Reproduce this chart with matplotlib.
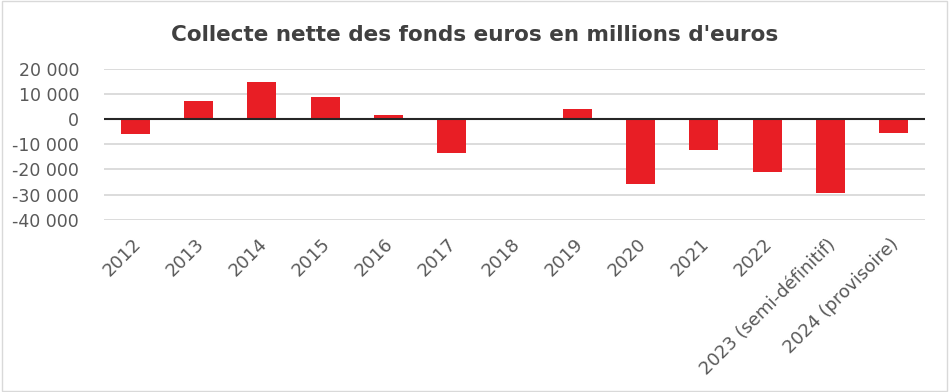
import numpy as np
import matplotlib
matplotlib.use("Agg")
import matplotlib.pyplot as plt
from matplotlib.patches import Rectangle
from matplotlib.ticker import FuncFormatter
from matplotlib.transforms import ScaledTranslation

# Collecte nette des fonds euros (millions d'euros)
years = ["2012", "2013", "2014", "2015", "2016", "2017", "2018", "2019",
         "2020", "2021", "2022", "2023 (semi-définitif)", "2024 (provisoire)"]
collecte = [-5700, 7300, 15000, 8900, 1700, -13300, 0, 4100,
            -25600, -12100, -21200, -29200, -5300]
yticks = [-40000, -30000, -20000, -10000, 0, 10000, 20000]

plt.rcParams["font.family"] = ["DejaVu Sans"]

fig = plt.figure(figsize=(9.49, 3.92), dpi=100)
ax = fig.add_axes([0.1096, 0.4395, 0.8651, 0.3845])

x = np.arange(len(years))
ax.bar(x, collecte, width=0.46, color="#E81E25", zorder=3)

ax.set_xlim(-0.5, len(years) - 0.5)
ax.set_ylim(-40000, 20000)
ax.set_yticks(yticks)
ax.yaxis.set_major_formatter(FuncFormatter(lambda v, p: f"{int(v):,}".replace(",", " ")))
ax.grid(axis="y", color="#D9D9D9", linewidth=1.3, zorder=0)
ax.axhline(0, color="#262626", linewidth=1.5, zorder=4)

ax.set_xticks(x)
ax.set_xticklabels(years, rotation=45, ha="right", rotation_mode="anchor")
ax.tick_params(axis="both", length=0, labelsize=12.5, colors="#595959")
ax.tick_params(axis="x", labelsize=13, pad=9)
ax.tick_params(axis="y", pad=18)
shift = ScaledTranslation(-4 / 100, -3 / 100, fig.dpi_scale_trans)
for lbl in ax.get_xticklabels():
    lbl.set_transform(lbl.get_transform() + shift)
for s in ax.spines.values():
    s.set_visible(False)

fig.text(0.5, 0.91, "Collecte nette des fonds euros en millions d'euros",
         ha="center", va="center", fontsize=15.5, fontweight="bold", color="#404040")

fig.patches.append(Rectangle((0.002, 0.003), 0.996, 0.994, transform=fig.transFigure,
                             fill=False, edgecolor="#D9D9D9", linewidth=1))

plt.savefig("out.png", dpi=100)
